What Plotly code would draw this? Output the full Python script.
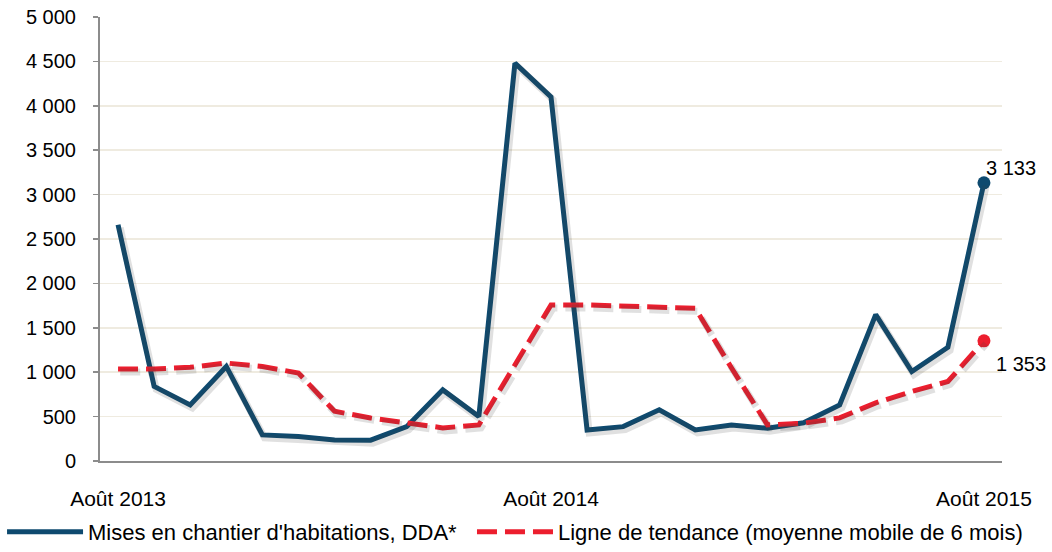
import plotly.graph_objects as go

months = ["Août 2013", "Sep 2013", "Oct 2013", "Nov 2013", "Déc 2013", "Jan 2014",
          "Fév 2014", "Mar 2014", "Avr 2014", "Mai 2014", "Juin 2014", "Juil 2014",
          "Août 2014", "Sep 2014", "Oct 2014", "Nov 2014", "Déc 2014", "Jan 2015",
          "Fév 2015", "Mar 2015", "Avr 2015", "Mai 2015", "Juin 2015", "Juil 2015",
          "Août 2015"]
mises = [2660, 840, 632, 1065, 294, 275, 237, 235, 387, 801, 500, 4480, 4100,
         350, 387, 576, 350, 406, 369, 430, 632, 1648, 1008, 1280, 3133]
tendance = [1035, 1035, 1055, 1103, 1065, 990, 560, 485, 429, 373, 406, 1076, 1758,
            1758, 1750, 1738, 1720, 1050, 406, 425, 485, 655, 783, 895, 1353]
x_ticks = ["Août 2013", "Août 2014", "Août 2015"]
y_ticks = [0, 500, 1000, 1500, 2000, 2500, 3000, 3500, 4000, 4500, 5000]
y_labels = ["0", "500", "1 000", "1 500", "2 000", "2 500", "3 000", "3 500", "4 000", "4 500", "5 000"]
end_labels = ["3 133", "1 353"]

BLUE = "#0E4A6F"
RED = "#EC1E2E"
SHADOW = "rgba(60,60,60,0.16)"
FONT = "Liberation Sans, Arial, sans-serif"

fig = go.Figure()
# soft drop shadows, drawn on an overlaid axis pair shifted by a few pixels (down-right)
fig.add_trace(go.Scatter(x=months, y=mises, mode="lines", showlegend=False, xaxis="x2", yaxis="y2",
                         line=dict(color=SHADOW, width=7)))
fig.add_trace(go.Scatter(x=months, y=tendance, mode="lines", showlegend=False, xaxis="x2", yaxis="y2",
                         line=dict(color=SHADOW, width=7, dash="20px,8px")))
fig.add_trace(go.Scatter(x=months, y=mises, mode="lines", name="Mises en chantier d'habitations, DDA*",
                         line=dict(color=BLUE, width=5), legend="legend"))
fig.add_trace(go.Scatter(x=months, y=tendance, mode="lines", name="Ligne de tendance (moyenne mobile de 6 mois)",
                         line=dict(color=RED, width=5, dash="20px,8px"), legend="legend2"))
fig.add_trace(go.Scatter(x=[months[-1]], y=[mises[-1]], mode="markers", showlegend=False,
                         marker=dict(color=BLUE, size=13), cliponaxis=False))
fig.add_trace(go.Scatter(x=[months[-1]], y=[tendance[-1]], mode="markers", showlegend=False,
                         marker=dict(color=RED, size=13), cliponaxis=False))

fig.add_annotation(x=months[-1], y=mises[-1], text=end_labels[0], showarrow=False,
                   xanchor="left", yanchor="middle", xshift=0, yshift=15,
                   font=dict(size=20, color="#000000", family=FONT))
fig.add_annotation(x=months[-1], y=tendance[-1], text=end_labels[1], showarrow=False,
                   xanchor="left", yanchor="middle", xshift=10, yshift=-23,
                   font=dict(size=20, color="#000000", family=FONT))

legend_common = dict(orientation="h", y=-0.16, xanchor="left", yanchor="middle",
                     font=dict(size=22, family=FONT, color="#000000"), itemwidth=76,
                     bgcolor="rgba(0,0,0,0)")
fig.update_layout(
    width=1052, height=552,
    margin=dict(l=100, r=50, t=17, b=91, autoexpand=False),
    paper_bgcolor="white", plot_bgcolor="white",
    font=dict(family=FONT, size=20, color="#000000"),
    showlegend=True,
    legend=dict(x=-0.1086, **legend_common),
    legend2=dict(x=0.4124, **legend_common),
    hovermode=False,
    xaxis2=dict(type="category", categoryorder="array", categoryarray=months,
                range=[-0.56, 24.44], overlaying="x", visible=False, automargin=False),
    yaxis2=dict(range=[34, 5034], overlaying="y", visible=False, automargin=False),
)
fig.layout.xaxis.update(
    type="category", categoryorder="array", categoryarray=months,
    range=[-0.5, 24.5], automargin=False,
    tickmode="array", tickvals=x_ticks, ticktext=x_ticks,
    showgrid=False, showline=True, linecolor="#8C8C8C", linewidth=2,
    ticks="", ticklen=0, ticklabelstandoff=18, tickfont=dict(size=21), zeroline=False,
)
fig.layout.yaxis.update(
    range=[0, 5000], automargin=False, tickmode="array", tickvals=y_ticks, ticktext=y_labels,
    showgrid=True, gridcolor="#EFEBE0", gridwidth=1.5,
    showline=True, linecolor="#8C8C8C", linewidth=2,
    ticks="outside", ticklen=5, tickcolor="#8C8C8C", tickwidth=1.5, ticklabelstandoff=13,
    tickfont=dict(size=20), zeroline=False,
)
fig.write_html("out.html", config={"displayModeBar": False, "staticPlot": True},
               post_script="document.body.style.margin='0';")
